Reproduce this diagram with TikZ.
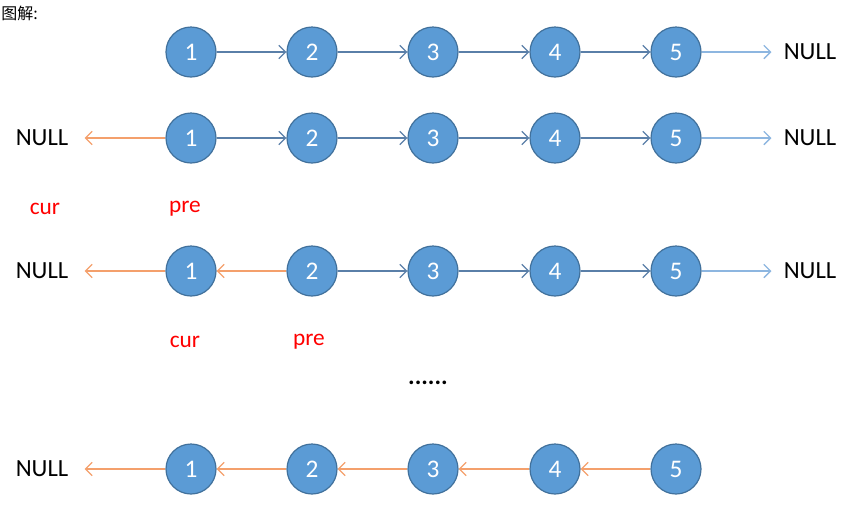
\documentclass[tikz,border=0pt]{standalone}
\usepackage{fontspec}
\setmainfont{Carlito}
\newfontfamily\cjkfont{Noto Sans CJK SC}
\usepackage{tikz}
\usetikzlibrary{arrows.meta}

\definecolor{nodefill}{HTML}{5B9BD5}
\definecolor{nodeline}{HTML}{41719C}
\definecolor{linkblue}{HTML}{5A7FA8}
\definecolor{nullblue}{HTML}{8DB6E0}
\definecolor{linkorange}{HTML}{F4A06C}
\definecolor{labelred}{HTML}{FF0000}

\tikzset{
    listnode/.style={circle, minimum size=37.5pt, inner sep=0pt, fill=nodefill,
        draw=nodeline, line width=0.9pt, text=white, font=\fontsize{19}{22}\selectfont},
    nulltext/.style={inner sep=0pt, font=\fontsize{18.5}{22}\selectfont},
    ptrtext/.style={inner sep=0pt, text=labelred, font=\fontsize{17.5}{21}\selectfont},
    nextlink/.style={draw=linkblue, line width=1pt, -{Straight Barb[length=5pt,width=10pt]}},
    nulllink/.style={draw=nullblue, line width=1pt, -{Straight Barb[length=5pt,width=10pt]}, shorten >=9pt},
    backlink/.style={draw=linkorange, line width=1pt, -{Straight Barb[length=5pt,width=10pt]}}
}

\begin{document}
\begin{tikzpicture}[x=0.75pt, y=-0.75pt]
    \useasboundingbox (0,0) rectangle (865,512);

    % Title
    \node[anchor=west, inner sep=0pt, font=\cjkfont\fontsize{12}{14}\selectfont] (title) at (1,13) {图解:};

    % Row 1: original list
    \foreach \i/\x in {1/191, 2/312, 3/433, 4/555, 5/676}
        \node[listnode] (a\i) at (\x,52) {\i};
    \node[nulltext] (anull) at (810,52) {NULL};
    \draw[nextlink] (a1) -- (a2);
    \draw[nextlink] (a2) -- (a3);
    \draw[nextlink] (a3) -- (a4);
    \draw[nextlink] (a4) -- (a5);
    \draw[nulllink] (a5) -- (anull);

    % Row 2: start, cur = NULL, pre = head
    \foreach \i/\x in {1/191, 2/312, 3/433, 4/555, 5/676}
        \node[listnode] (b\i) at (\x,138) {\i};
    \node[nulltext] (bnullL) at (42,138) {NULL};
    \node[nulltext] (bnull) at (810,138) {NULL};
    \draw[backlink, shorten >=12pt] (b1) -- (bnullL);
    \draw[nextlink] (b1) -- (b2);
    \draw[nextlink] (b2) -- (b3);
    \draw[nextlink] (b3) -- (b4);
    \draw[nextlink] (b4) -- (b5);
    \draw[nulllink] (b5) -- (bnull);
    \node[ptrtext] (bcur) at (45,209) {cur};
    \node[ptrtext] (bpre) at (185,209) {pre};

    % Row 3: after first step
    \foreach \i/\x in {1/191, 2/312, 3/433, 4/555, 5/676}
        \node[listnode] (c\i) at (\x,271) {\i};
    \node[nulltext] (cnullL) at (42,271) {NULL};
    \node[nulltext] (cnull) at (810,271) {NULL};
    \draw[backlink, shorten >=12pt] (c1) -- (cnullL);
    \draw[backlink] (c2) -- (c1);
    \draw[nextlink] (c2) -- (c3);
    \draw[nextlink] (c3) -- (c4);
    \draw[nextlink] (c4) -- (c5);
    \draw[nulllink] (c5) -- (cnull);
    \node[ptrtext] (ccur) at (185,342) {cur};
    \node[ptrtext] (cpre) at (309,342) {pre};

    \node[nulltext] (dots) at (428,383) {\textbf{......}};

    % Row 4: reversed list
    \foreach \i/\x in {1/191, 2/312, 3/433, 4/555, 5/676}
        \node[listnode] (d\i) at (\x,469) {\i};
    \node[nulltext] (dnullL) at (42,469) {NULL};
    \draw[backlink, shorten >=12pt] (d1) -- (dnullL);
    \draw[backlink] (d2) -- (d1);
    \draw[backlink] (d3) -- (d2);
    \draw[backlink] (d4) -- (d3);
    \draw[backlink] (d5) -- (d4);
\end{tikzpicture}
\end{document}
